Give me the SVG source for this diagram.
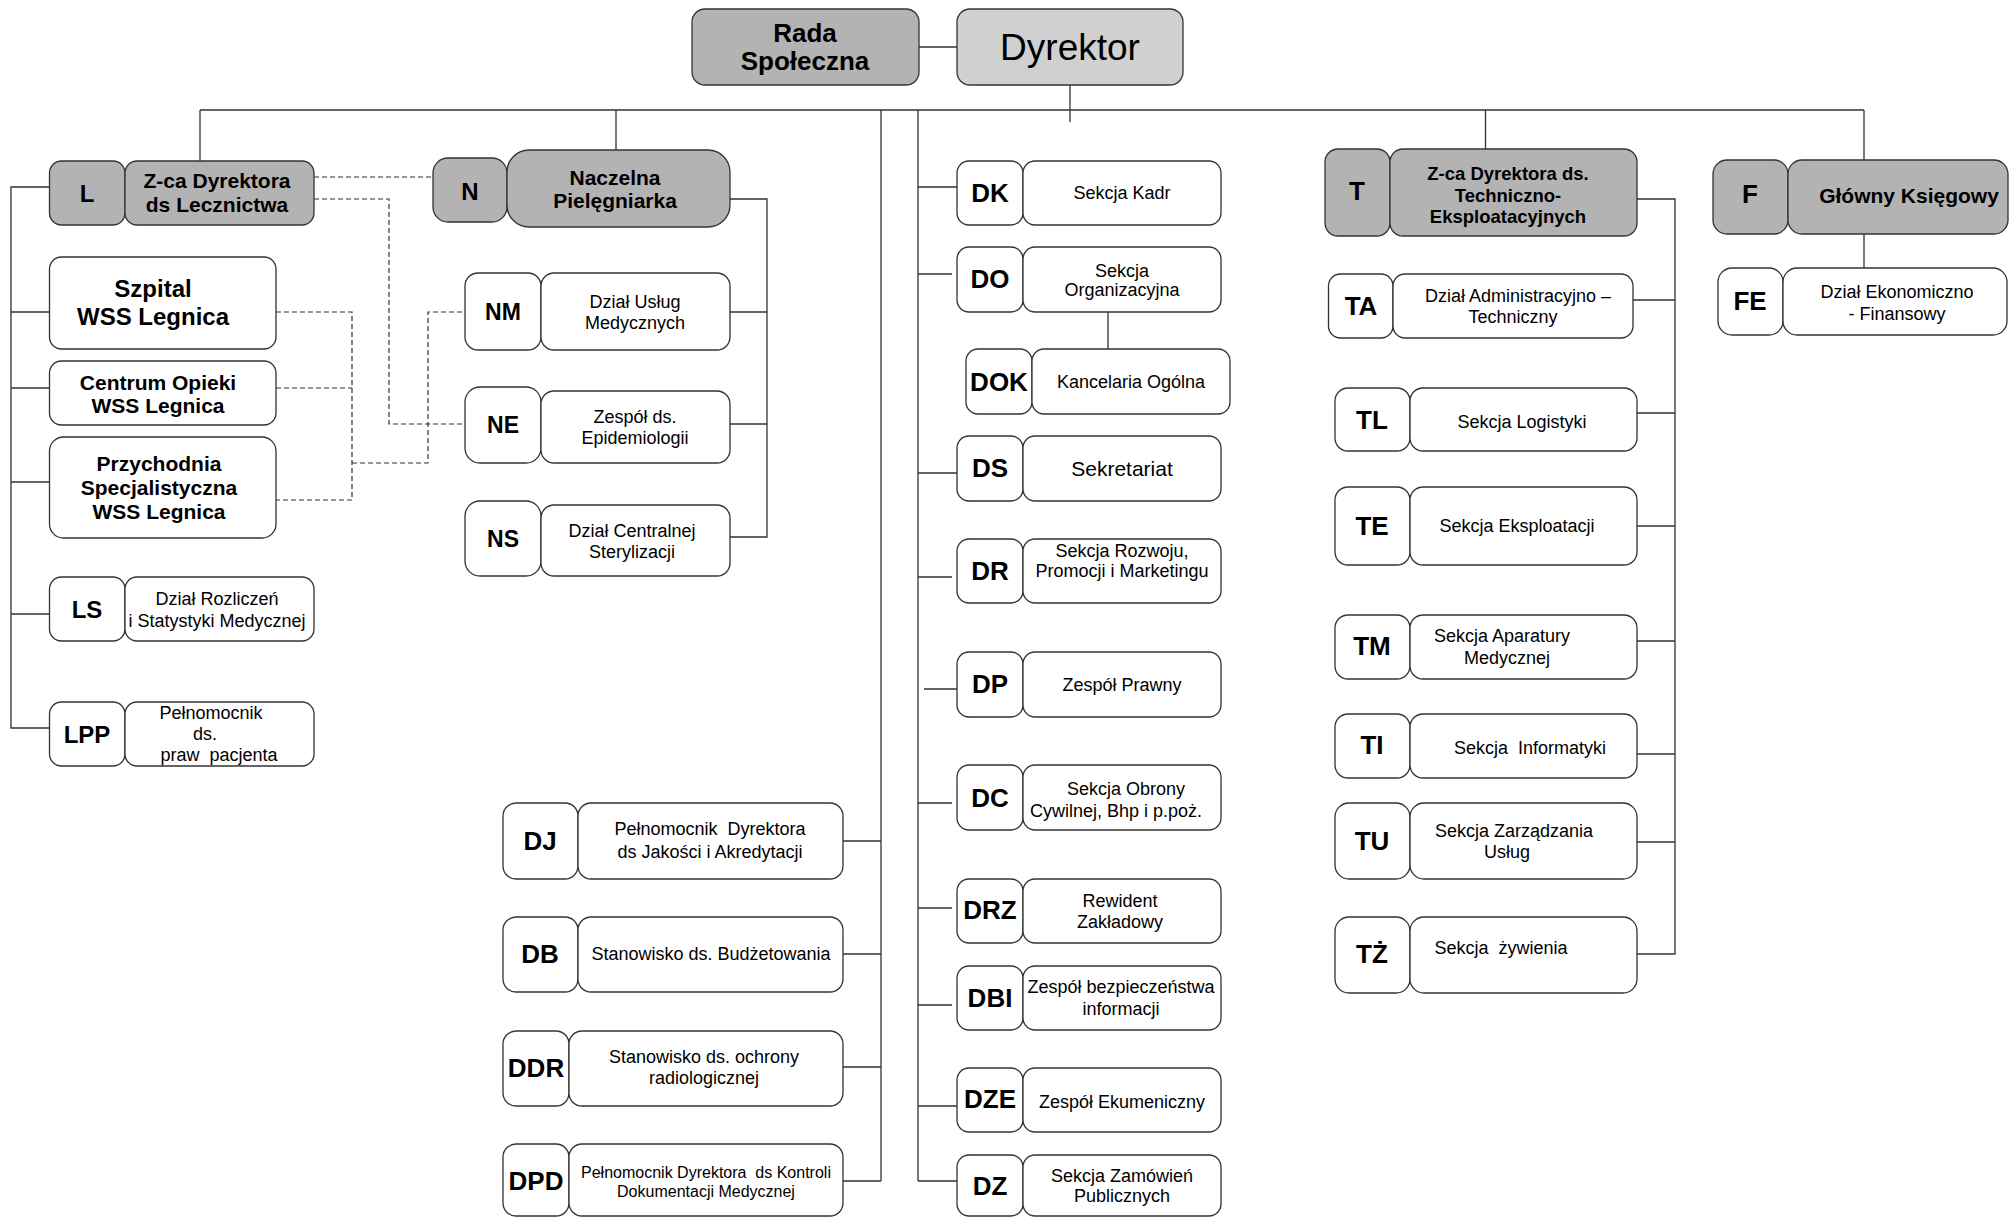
<svg xmlns="http://www.w3.org/2000/svg" width="2009" height="1218" viewBox="0 0 2009 1218">
<style>
.g{fill:#b3b3b3;stroke:#333;stroke-width:1.3}
.l{fill:#d0d0d0;stroke:#333;stroke-width:1.3}
.w{fill:#fff;stroke:#333;stroke-width:1.3}
.c{stroke:#333;stroke-width:1.3;fill:none}
.d{stroke:#333;stroke-width:1.2;fill:none;stroke-dasharray:5 3}
text{font-family:"Liberation Sans",Arial,sans-serif;text-anchor:middle;fill:#000;white-space:pre}
.b{font-weight:bold}
.k{font-weight:bold;font-size:26px}
.k24{font-weight:bold;font-size:24px}
.k23{font-weight:bold;font-size:23px}
.t{font-size:18px}
</style>
<rect width="2009" height="1218" fill="#fff"/>
<g id="connectors">
<path class="c" d="M919 47H957M1070 85V122M200 110H1864M200 110V161M616 110V160M881 110V1181M918 110V1181M1485.5 110V149M1864 110V160"/>
<path class="c" d="M49.5 187H11V728H49.5M11 312H49.5M11 388H49.5M11 482H49.5M11 614H49.5"/>
<path class="c" d="M730 199H767V537H730M730 312H767M730 424H767"/>
<path class="d" d="M314 177H433M314 199H389V424H465M276 312H352V500H276M276 388H352M352 463H428V312H465"/>
<path class="c" d="M843 841H881M843 954H881M843 1067H881M843 1181H881"/>
<path class="c" d="M918 187H957M918 274H952M1108 312V349M918 473H957M918 577H952M924 689H957M918 803H952M918 908H952M918 1005H952M918 1106H957M918 1181H957"/>
<path class="c" d="M1637 199H1675V954H1637M1633 300H1675M1637 413H1675M1637 526H1675M1637 641H1675M1637 754H1675M1637 842H1675"/>
<path class="c" d="M1864 234V273"/>
</g>
<g id="rada"><rect class="g" x="692" y="9" width="227" height="76" rx="13"/><text class="b" font-size="26" x="805" y="42">Rada</text><text class="b" font-size="26" x="805" y="70">Społeczna</text></g>
<g id="dyrektor"><rect class="l" x="957" y="9" width="226" height="76" rx="13"/><text font-size="37" x="1070" y="60">Dyrektor</text></g>

<g id="L"><rect class="g" x="49.5" y="161" width="75.5" height="64" rx="12"/><rect class="g" x="125" y="161" width="189" height="64" rx="12"/><text class="k24" x="87" y="202">L</text><text class="b" font-size="21" x="217" y="188">Z-ca Dyrektora</text><text class="b" font-size="21" x="217" y="212">ds Lecznictwa</text></g>
<g id="szpital"><rect class="w" x="49.5" y="257" width="226.5" height="92" rx="12"/><text class="b" font-size="24" x="153" y="297">Szpital</text><text class="b" font-size="24" x="153" y="325">WSS Legnica</text></g>
<g id="centrum"><rect class="w" x="49.5" y="361" width="226.5" height="64" rx="12"/><text class="b" font-size="21" x="158" y="390">Centrum Opieki</text><text class="b" font-size="21" x="158" y="413">WSS Legnica</text></g>
<g id="przychodnia"><rect class="w" x="49.5" y="437" width="226.5" height="101" rx="14"/><text class="b" font-size="21" x="159" y="471">Przychodnia</text><text class="b" font-size="21" x="159" y="495">Specjalistyczna</text><text class="b" font-size="21" x="159" y="519">WSS Legnica</text></g>
<g id="LS"><rect class="w" x="49.5" y="577" width="75.5" height="64" rx="12"/><rect class="w" x="125" y="577" width="189" height="64" rx="12"/><text class="k24" x="87" y="618">LS</text><text class="t" x="217" y="605">Dział Rozliczeń</text><text class="t" x="217" y="627">i Statystyki Medycznej</text></g>
<g id="LPP"><rect class="w" x="49.5" y="702" width="75.5" height="64" rx="12"/><rect class="w" x="125" y="702" width="189" height="64" rx="12"/><text class="k24" x="87" y="743">LPP</text><text class="t" x="211" y="719">Pełnomocnik</text><text class="t" x="205" y="740">ds.</text><text class="t" x="219" y="761">praw  pacjenta</text></g>

<g id="N"><rect class="g" x="433" y="158" width="74" height="64" rx="15"/><rect class="g" x="507" y="150" width="223" height="77" rx="22"/><text class="k24" x="470" y="200">N</text><text class="b" font-size="21" x="615" y="185">Naczelna</text><text class="b" font-size="21" x="615" y="208">Pielęgniarka</text></g>
<g id="NM"><rect class="w" x="465" y="273" width="76" height="77" rx="13"/><rect class="w" x="541" y="273" width="189" height="77" rx="13"/><text class="k23" x="503" y="320">NM</text><text class="t" x="635" y="308">Dział Usług</text><text class="t" x="635" y="329">Medycznych</text></g>
<g id="NE"><rect class="w" x="465" y="387" width="76" height="76" rx="15"/><rect class="w" x="541" y="391" width="189" height="72" rx="13"/><text class="k23" x="503" y="433">NE</text><text class="t" x="635" y="423">Zespół ds.</text><text class="t" x="635" y="444">Epidemiologii</text></g>
<g id="NS"><rect class="w" x="465" y="501" width="76" height="75" rx="15"/><rect class="w" x="541" y="505" width="189" height="71" rx="13"/><text class="k23" x="503" y="547">NS</text><text class="t" x="632" y="537">Dział Centralnej</text><text class="t" x="632" y="558">Sterylizacji</text></g>

<g id="DJ"><rect class="w" x="503" y="803" width="75" height="76" rx="13"/><rect class="w" x="578" y="803" width="265" height="76" rx="13"/><text class="k" x="540" y="850">DJ</text><text class="t" x="710" y="835">Pełnomocnik  Dyrektora</text><text class="t" x="710" y="858">ds Jakości i Akredytacji</text></g>
<g id="DB"><rect class="w" x="503" y="917" width="75" height="75" rx="13"/><rect class="w" x="578" y="917" width="265" height="75" rx="13"/><text class="k" x="540" y="963">DB</text><text class="t" x="711" y="960">Stanowisko ds. Budżetowania</text></g>
<g id="DDR"><rect class="w" x="503" y="1031" width="66" height="75" rx="13"/><rect class="w" x="569" y="1031" width="274" height="75" rx="13"/><text class="k" x="536" y="1077">DDR</text><text class="t" x="704" y="1063">Stanowisko ds. ochrony</text><text class="t" x="704" y="1084">radiologicznej</text></g>
<g id="DPD"><rect class="w" x="503" y="1144" width="66" height="72" rx="13"/><rect class="w" x="569" y="1144" width="274" height="72" rx="13"/><text class="k" x="536" y="1190">DPD</text><text font-size="16" x="706" y="1178">Pełnomocnik Dyrektora  ds Kontroli</text><text font-size="16" x="706" y="1197">Dokumentacji Medycznej</text></g>

<g id="DK"><rect class="w" x="957" y="161" width="66" height="64" rx="12"/><rect class="w" x="1023" y="161" width="198" height="64" rx="12"/><text class="k" x="990" y="202">DK</text><text class="t" x="1122" y="199">Sekcja Kadr</text></g>
<g id="DO"><rect class="w" x="957" y="247" width="66" height="65" rx="12"/><rect class="w" x="1023" y="247" width="198" height="65" rx="12"/><text class="k" x="990" y="288">DO</text><text class="t" x="1122" y="277">Sekcja</text><text class="t" x="1122" y="296">Organizacyjna</text></g>
<g id="DOK"><rect class="w" x="966" y="349" width="66" height="65" rx="12"/><rect class="w" x="1032" y="349" width="198" height="65" rx="12"/><text class="k" x="999" y="391">DOK</text><text class="t" x="1131" y="388">Kancelaria Ogólna</text></g>
<g id="DS"><rect class="w" x="957" y="436" width="66" height="65" rx="12"/><rect class="w" x="1023" y="436" width="198" height="65" rx="12"/><text class="k" x="990" y="477">DS</text><text font-size="21" x="1122" y="476">Sekretariat</text></g>
<g id="DR"><rect class="w" x="957" y="539" width="66" height="64" rx="12"/><rect class="w" x="1023" y="539" width="198" height="64" rx="12"/><text class="k" x="990" y="580">DR</text><text class="t" x="1122" y="557">Sekcja Rozwoju,</text><text class="t" x="1122" y="577">Promocji i Marketingu</text></g>
<g id="DP"><rect class="w" x="957" y="652" width="66" height="65" rx="12"/><rect class="w" x="1023" y="652" width="198" height="65" rx="12"/><text class="k" x="990" y="693">DP</text><text class="t" x="1122" y="691">Zespół Prawny</text></g>
<g id="DC"><rect class="w" x="957" y="765" width="66" height="65" rx="12"/><rect class="w" x="1023" y="765" width="198" height="65" rx="12"/><text class="k" x="990" y="807">DC</text><text class="t" x="1126" y="795">Sekcja Obrony</text><text class="t" x="1116" y="817">Cywilnej, Bhp i p.poż.</text></g>
<g id="DRZ"><rect class="w" x="957" y="879" width="66" height="64" rx="12"/><rect class="w" x="1023" y="879" width="198" height="64" rx="12"/><text class="k" x="990" y="919">DRZ</text><text class="t" x="1120" y="907">Rewident</text><text class="t" x="1120" y="928">Zakładowy</text></g>
<g id="DBI"><rect class="w" x="957" y="966" width="66" height="64" rx="12"/><rect class="w" x="1023" y="966" width="198" height="64" rx="12"/><text class="k" x="990" y="1007">DBI</text><text class="t" x="1121" y="993">Zespół bezpieczeństwa</text><text class="t" x="1121" y="1015">informacji</text></g>
<g id="DZE"><rect class="w" x="957" y="1068" width="66" height="64" rx="12"/><rect class="w" x="1023" y="1068" width="198" height="64" rx="12"/><text class="k" x="990" y="1108">DZE</text><text class="t" x="1122" y="1108">Zespół Ekumeniczny</text></g>
<g id="DZ"><rect class="w" x="957" y="1155" width="66" height="61" rx="12"/><rect class="w" x="1023" y="1155" width="198" height="61" rx="12"/><text class="k" x="990" y="1195">DZ</text><text class="t" x="1122" y="1182">Sekcja Zamówień</text><text class="t" x="1122" y="1202">Publicznych</text></g>

<g id="T"><rect class="g" x="1325" y="149" width="65" height="87" rx="13"/><rect class="g" x="1390" y="149" width="247" height="87" rx="13"/><text class="k" x="1357" y="200">T</text><text class="b" font-size="18.5" x="1508" y="180">Z-ca Dyrektora ds.</text><text class="b" font-size="18.5" x="1508" y="202">Techniczno-</text><text class="b" font-size="18.5" x="1508" y="223">Eksploatacyjnych</text></g>
<g id="TA"><rect class="w" x="1328.5" y="274" width="64.5" height="64" rx="12"/><rect class="w" x="1393" y="274" width="240" height="64" rx="12"/><text class="k" x="1361" y="315">TA</text><text class="t" x="1518" y="302">Dział Administracyjno –</text><text class="t" x="1513" y="323">Techniczny</text></g>
<g id="TL"><rect class="w" x="1335" y="388" width="75" height="63" rx="13"/><rect class="w" x="1410" y="388" width="227" height="63" rx="13"/><text class="k" x="1372" y="429">TL</text><text class="t" x="1522" y="428">Sekcja Logistyki</text></g>
<g id="TE"><rect class="w" x="1335" y="487" width="75" height="78" rx="13"/><rect class="w" x="1410" y="487" width="227" height="78" rx="13"/><text class="k" x="1372" y="535">TE</text><text class="t" x="1517" y="532">Sekcja Eksploatacji</text></g>
<g id="TM"><rect class="w" x="1335" y="615" width="75" height="64" rx="13"/><rect class="w" x="1410" y="615" width="227" height="64" rx="13"/><text class="k" x="1372" y="655">TM</text><text class="t" x="1502" y="642">Sekcja Aparatury</text><text class="t" x="1507" y="664">Medycznej</text></g>
<g id="TI"><rect class="w" x="1335" y="714" width="75" height="64" rx="13"/><rect class="w" x="1410" y="714" width="227" height="64" rx="13"/><text class="k" x="1372" y="754">TI</text><text class="t" x="1530" y="754">Sekcja  Informatyki</text></g>
<g id="TU"><rect class="w" x="1335" y="803" width="75" height="76" rx="14"/><rect class="w" x="1410" y="803" width="227" height="76" rx="14"/><text class="k" x="1372" y="850">TU</text><text class="t" x="1514" y="837">Sekcja Zarządzania</text><text class="t" x="1507" y="858">Usług</text></g>
<g id="TZ"><rect class="w" x="1335" y="917" width="75" height="76" rx="14"/><rect class="w" x="1410" y="917" width="227" height="76" rx="14"/><text class="k" x="1372" y="963">TŻ</text><text class="t" x="1501" y="954">Sekcja  żywienia</text></g>

<g id="F"><rect class="g" x="1713" y="160" width="75" height="74" rx="14"/><rect class="g" x="1788" y="160" width="220" height="74" rx="14"/><text class="k" x="1750" y="203">F</text><text class="b" font-size="21" x="1909" y="203">Główny Księgowy</text></g>
<g id="FE"><rect class="w" x="1718" y="268" width="65" height="67" rx="14"/><rect class="w" x="1783" y="268" width="224" height="67" rx="14"/><text class="k" x="1750" y="310">FE</text><text class="t" x="1897" y="298">Dział Ekonomiczno</text><text class="t" x="1897" y="320">- Finansowy</text></g>
</svg>
